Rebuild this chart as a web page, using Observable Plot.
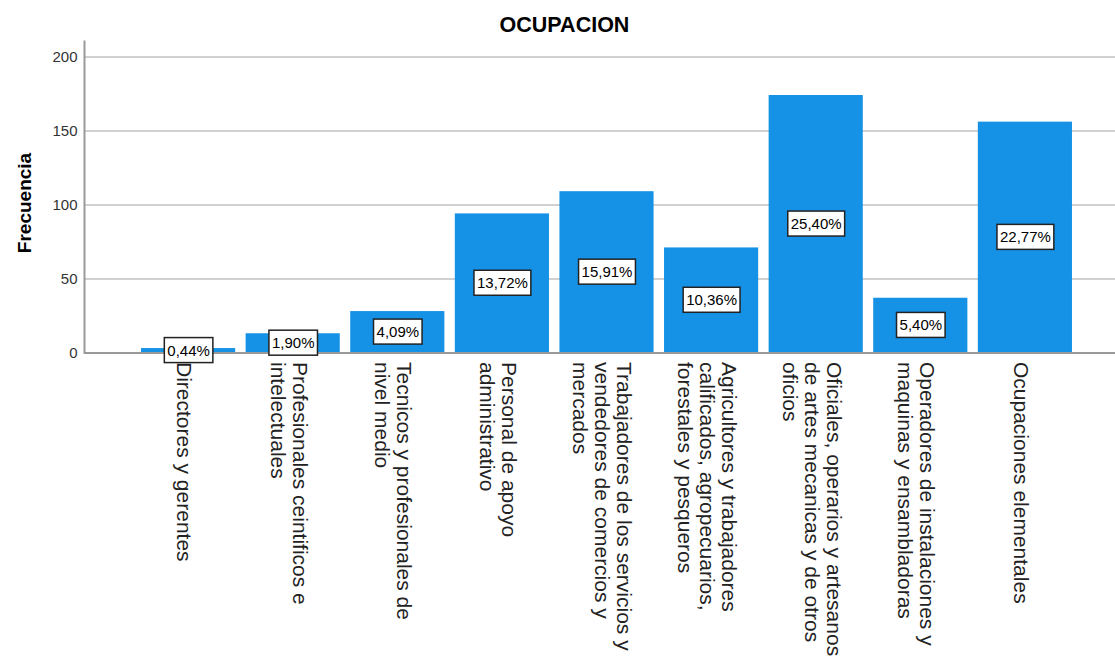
<!DOCTYPE html>
<html>
<head>
<meta charset="utf-8">
<script src="https://cdn.jsdelivr.net/npm/d3@7"></script>
<script src="https://cdn.jsdelivr.net/npm/@observablehq/plot@0.6"></script>
<style>
  html, body { margin: 0; padding: 0; background: #fff; }
  svg { display: block; }
</style>
</head>
<body>
<div id="chart"></div>
<script>
const categories = [
  "Directores y gerentes",
  "Profesionales ceintificos e intelectuales",
  "Tecnicos y profesionales de nivel medio",
  "Personal de apoyo administrativo",
  "Trabajadores de los servicios y vendedores de comercios y mercados",
  "Agricultores y trabajadores calificados, agropecuarios, forestales y pesqueros",
  "Oficiales, operarios y artesanos de artes mecanicas y de otros oficios",
  "Operadores de instalaciones y maquinas y ensambladoras",
  "Ocupaciones elementales"
];
const tickLabels = [
  "Directores y gerentes",
  "Profesionales ceintificos e\nintelectuales",
  "Tecnicos y profesionales de\nnivel medio",
  "Personal de apoyo\nadministrativo",
  "Trabajadores de los servicios y\nvendedores de comercios y\nmercados",
  "Agricultores y trabajadores\ncalificados, agropecuarios,\nforestales y pesqueros",
  "Oficiales, operarios y artesanos\nde artes mecanicas y de otros\noficios",
  "Operadores de instalaciones y\nmaquinas y ensambladoras",
  "Ocupaciones elementales"
];
const frequencies = [3, 13, 28, 94, 109, 71, 174, 37, 156];
const percents = [0.44, 1.90, 4.09, 13.72, 15.91, 10.36, 25.40, 5.40, 22.77];
const yTicks = [0, 50, 100, 150, 200];
const chartTitle = "OCUPACION";
const yLabel = "Frecuencia";

const data = categories.map((c, i) => ({
  cat: c, label: tickLabels[i], n: frequencies[i], pct: percents[i]
}));
const font = "'Liberation Sans', Arial, Helvetica, sans-serif";

const chart = Plot.plot({
  width: 1115,
  height: 657,
  marginLeft: 84,
  marginRight: 0,
  marginTop: 41,
  marginBottom: 304.5,
  style: { fontFamily: font, background: "#fff", overflow: "visible" },
  x: { domain: categories, range: [135.8, 1077.2], paddingInner: 0.1, paddingOuter: 0.05, round: false, axis: null },
  y: { domain: [0, 210.5], axis: null },
  marks: [
    Plot.gridY(yTicks, { stroke: "#d0d0d0", strokeOpacity: 1, strokeWidth: 2 }),
    Plot.axisY(yTicks, { tickSize: 0, tickPadding: 7, fontSize: 15, fill: "#333", label: null }),
    Plot.barY(data, { x: "cat", y: "n", fill: "#1591e6" }),
    Plot.ruleY([0], { stroke: "#999", strokeWidth: 2 }),
    Plot.frame({ anchor: "left", stroke: "#999", strokeWidth: 2 }),
    Plot.text(data, {
      x: "cat", y: d => d.n / 2,
      text: d => d.pct.toFixed(2).replace(".", ",") + "%",
      fontSize: 15, fill: "#000"
    }),
    Plot.text(data, {
      x: "cat", text: "label", frameAnchor: "bottom",
      rotate: 90, textAnchor: "start", lineAnchor: "middle",
      lineHeight: 1.05, fontSize: 21, fill: "#222", dx: -4.5, dy: 9
    }),
    Plot.text([chartTitle], {
      frameAnchor: "top-left", textAnchor: "middle", lineAnchor: "bottom",
      dx: 480, dy: -10, fontSize: 21.5, fontWeight: "bold", fill: "#000"
    }),
    Plot.text([yLabel], {
      frameAnchor: "left", rotate: -90, textAnchor: "middle", lineAnchor: "bottom",
      dx: -54, dy: 5.75, fontSize: 19, fontWeight: "bold", fill: "#000"
    })
  ]
});

document.getElementById("chart").append(chart);

// white boxes with a dark border behind the percentage labels (first text mark)
const pctGroup = chart.querySelectorAll('g[aria-label="text"]')[0];
if (pctGroup) {
  pctGroup.querySelectorAll("text").forEach(t => {
    const b = t.getBBox();
    const r = document.createElementNS("http://www.w3.org/2000/svg", "rect");
    r.setAttribute("x", b.x - 3);
    r.setAttribute("y", b.y - 4);
    r.setAttribute("width", b.width + 6);
    r.setAttribute("height", b.height + 8);
    r.setAttribute("fill", "#fff");
    r.setAttribute("stroke", "#222");
    r.setAttribute("stroke-width", 1.5);
    const tr = t.getAttribute("transform");
    if (tr) r.setAttribute("transform", tr);
    t.parentNode.insertBefore(r, t);
  });
}
</script>
</body>
</html>
